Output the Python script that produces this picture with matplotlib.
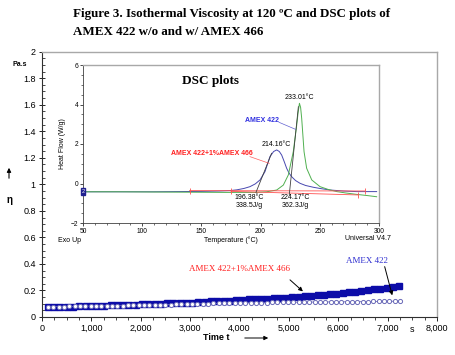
import numpy as np
import matplotlib.pyplot as plt
from matplotlib.ticker import MultipleLocator

# isothermal viscosity at 120 C (Pa.s) vs time (s)
t_blend = np.arange(120, 7240, 127)
eta_blend = [0.075, 0.076, 0.077, 0.078, 0.079, 0.080, 0.082, 0.083, 0.084, 0.085,
             0.087, 0.088, 0.090, 0.092, 0.094, 0.096, 0.097, 0.099, 0.100, 0.102,
             0.104, 0.105, 0.107, 0.109, 0.112, 0.114, 0.117, 0.119, 0.122, 0.124,
             0.127, 0.129, 0.132, 0.134, 0.137, 0.139, 0.142, 0.144, 0.147, 0.150,
             0.154, 0.158, 0.161, 0.164, 0.168, 0.172, 0.177, 0.181, 0.186, 0.191,
             0.196, 0.202, 0.208, 0.214, 0.221, 0.228, 0.235]
t_neat = np.arange(120, 7250, 108)
eta_neat = [0.078, 0.078, 0.079, 0.079, 0.080, 0.080, 0.081, 0.082, 0.082, 0.083,
            0.084, 0.084, 0.085, 0.086, 0.086, 0.087, 0.088, 0.089, 0.089, 0.090,
            0.091, 0.092, 0.093, 0.094, 0.095, 0.096, 0.097, 0.098, 0.099, 0.100,
            0.101, 0.102, 0.103, 0.104, 0.105, 0.106, 0.107, 0.107, 0.108, 0.108,
            0.109, 0.109, 0.110, 0.110, 0.111, 0.111, 0.111, 0.112, 0.112, 0.112,
            0.113, 0.113, 0.113, 0.114, 0.114, 0.114, 0.115, 0.115, 0.115, 0.116,
            0.116, 0.117, 0.117, 0.118, 0.118, 0.119, 0.120]
x_ticks = [0, 1000, 2000, 3000, 4000, 5000, 6000, 7000, 8000]
x_labels = ["0", "1,000", "2,000", "3,000", "4,000", "5,000", "6,000", "7,000", "8,000"]
y_ticks = [0, 0.2, 0.4, 0.6, 0.8, 1.0, 1.2, 1.4, 1.6, 1.8, 2.0]
y_labels = ["0", "0.2", "0.4", "0.6", "0.8", "1", "1.2", "1.4", "1.6", "1.8", "2"]

# DSC heat flow (W/g) vs temperature (C)
neat_T = [50, 80, 110, 140, 170, 195, 205, 213.6, 219.2, 223.4, 227.6, 230.5, 231.7,
          232.8, 233.8, 234.7, 236.7, 238.9, 243.2, 250.2, 257, 264.3, 272, 281, 290, 298]
neat_HF = [-0.42, -0.42, -0.43, -0.44, -0.45, -0.45, -0.42, -0.33, -0.08, 0.43, 1.61,
           2.96, 3.6, 4.06, 3.85, 3.3, 1.61, 0.77, 0.18, -0.16, -0.30, -0.41, -0.48,
           -0.55, -0.61, -0.67]
blend_T = [50, 80, 110, 130, 150, 165, 174, 180, 186, 191, 195.5, 199.5, 203.7, 207.9,
           211, 213.6, 215.8, 217.8, 220, 222, 224, 226.3, 229.5, 233.3, 238, 244.5,
           251, 258.6, 270, 281, 298]
blend_HF = [-0.42, -0.42, -0.42, -0.41, -0.40, -0.38, -0.36, -0.32, -0.25, -0.16, -0.02,
            0.18, 0.60, 1.36, 1.62, 1.70, 1.62, 1.44, 1.10, 0.77, 0.53, 0.34, 0.15, 0.01,
            -0.10, -0.19, -0.26, -0.33, -0.38, -0.41, -0.41]
onset_blend_T, onset_blend_HF = [196.1, 209.3], [-0.45, 1.53]
onset_neat_T, onset_neat_HF = [224.2, 231.9], [-0.58, 3.89]
base_blend_T, base_blend_HF = [140, 288], [-0.36, -0.38]
base_neat_T, base_neat_HF = [175, 282.5], [-0.40, -0.58]

serif = "Liberation Serif"
sans = "Liberation Sans"
plt.rcParams["font.family"] = sans

fig = plt.figure(figsize=(4.55, 3.55), dpi=100)
ax = fig.add_axes([42 / 455, 38 / 355, 395 / 455, 265.3 / 355])

ax.plot(t_blend, eta_blend, ls="none", marker="s", ms=4.5, color="#0c0ca8", mec="#0c0ca8")
ax.plot(t_neat, eta_neat, ls="-", lw=0.6, marker="o", ms=3, color="#6a6ab8",
        mfc="white", mec="#6a6ab8", mew=0.7)

ax.set_xlim(0, 8000)
ax.set_ylim(0, 2)
ax.set_xticks(x_ticks, x_labels)
ax.set_yticks(y_ticks, y_labels)
ax.xaxis.set_minor_locator(MultipleLocator(250))
ax.yaxis.set_minor_locator(MultipleLocator(0.05))
ax.tick_params(which="major", labelsize=6.5, width=0.6, length=3, pad=2)
ax.tick_params(axis="y", which="major", direction="inout", length=5)
ax.tick_params(which="minor", width=0.5, length=2)
ax.tick_params(axis="y", which="minor", direction="in")
for side in ["left", "bottom"]:
    ax.spines[side].set_color("#303030")
    ax.spines[side].set_linewidth(0.8)
for side in ["top", "right"]:
    ax.spines[side].set_color("#a8a8a8")
    ax.spines[side].set_linewidth(1.0)

ax.text(3990, 0.362, "AMEX 422+1%AMEX 466", family=serif, fontsize=6.5, color="#ff2020",
        ha="center", va="center")
ax.annotate("", xy=(5326, 0.179), xytext=(4981, 0.294),
            arrowprops=dict(arrowstyle="-|>", color="black", lw=0.7, mutation_scale=6))
ax.text(6581, 0.422, "AMEX 422", family=serif, fontsize=6.5, color="#3030d0",
        ha="center", va="center")
ax.annotate("", xy=(7108, 0.143), xytext=(6926, 0.40),
            arrowprops=dict(arrowstyle="-|>", color="black", lw=0.7, mutation_scale=6))

# axis labels drawn as loose text like the original
fig.text(412 / 455, 1 - 329 / 355, "s", fontsize=6.5, ha="center", va="center")
fig.text(216 / 455, 1 - 338 / 355, "Time t", fontsize=6.5, weight="bold", ha="center", va="center")
ax.annotate("", xy=(271 / 455, 1 - 338 / 355), xytext=(242 / 455, 1 - 338 / 355),
            xycoords="figure fraction", textcoords="figure fraction",
            arrowprops=dict(arrowstyle="-|>", color="black", lw=0.7, mutation_scale=6))
fig.text(20 / 455, 1 - 64 / 355, "Pa.s", fontsize=5, weight="bold", ha="center", va="center")
fig.text(10 / 455, 1 - 200 / 355, "\u03b7", fontsize=7, weight="bold", ha="center", va="center")
ax.annotate("", xy=(9 / 455, 1 - 165 / 355), xytext=(9 / 455, 1 - 181 / 355),
            xycoords="figure fraction", textcoords="figure fraction",
            arrowprops=dict(arrowstyle="-|>", color="black", lw=0.8, mutation_scale=6))

fig.text(73 / 455, 1 - 14 / 355,
         "Figure 3. Isothermal Viscosity at 120 \u00baC and DSC plots of",
         family=serif, fontsize=9.4, weight="bold", ha="left", va="center")
fig.text(73 / 455, 1 - 32 / 355, "AMEX 422 w/o and w/ AMEX 466",
         family=serif, fontsize=9.4, weight="bold", ha="left", va="center")

# DSC inset
ins = fig.add_axes([83 / 455, 132 / 355, 296 / 455, 158 / 355])
ins.plot(blend_T, blend_HF, color="#4848b0", lw=0.7)
ins.plot(neat_T, neat_HF, color="#50b050", lw=0.7)
ins.plot(base_blend_T, base_blend_HF, color="#ff5050", lw=0.6, marker="|", ms=4, mew=0.6)
ins.plot(base_neat_T, base_neat_HF, color="#ff5050", lw=0.6, marker="|", ms=4, mew=0.6)
ins.plot(onset_blend_T, onset_blend_HF, color="#404040", lw=0.6)
ins.plot(onset_neat_T, onset_neat_HF, color="#404040", lw=0.6)

ins.set_xlim(50, 300)
ins.set_ylim(-2, 6)
ins.set_xticks([50, 100, 150, 200, 250, 300])
ins.set_yticks([-2, 0, 2, 4, 6])
ins.xaxis.set_minor_locator(MultipleLocator(10))
ins.yaxis.set_minor_locator(MultipleLocator(0.5))
ins.tick_params(which="major", labelsize=4.8, length=2.5, width=0.5, pad=1)
ins.tick_params(which="minor", length=1.3, width=0.4)
for side in ["left", "bottom"]:
    ins.spines[side].set_color("#404040")
    ins.spines[side].set_linewidth(0.6)
for side in ["top", "right"]:
    ins.spines[side].set_color("#a8a8a8")
    ins.spines[side].set_linewidth(1.0)
ins.set_ylabel("Heat Flow (W/g)", fontsize=5, labelpad=3)
ins.set_xlabel("Temperature (\u00b0C)", fontsize=5, labelpad=1)

ins.text(0.43, 0.9, "DSC plots", transform=ins.transAxes, family=serif, fontsize=9.5,
         weight="bold", ha="center", va="center")
ins.text(232.8, 4.35, "233.01\u00b0C", fontsize=5, ha="center", va="center")
ins.text(213.6, 1.95, "214.16\u00b0C", fontsize=5, ha="center", va="center")
ins.text(190, -0.9, "196.38\u00b0C\n338.5J/g", fontsize=5, ha="center", va="center",
         linespacing=1.1)
ins.text(229, -0.9, "224.17\u00b0C\n362.3J/g", fontsize=5, ha="center", va="center",
         linespacing=1.1)
ins.text(201, 3.18, "AMEX 422", fontsize=5, weight="bold", color="#3030e0",
         ha="center", va="center")
ins.plot([215.5, 229.6], [3.1, 2.74], color="#6060d0", lw=0.5)
ins.text(159, 1.54, "AMEX 422+1%AMEX 466", fontsize=5, weight="bold", color="#ff2020",
         ha="center", va="center")
ins.plot([191, 207.3], [1.36, 1.02], color="#ff6060", lw=0.5)
ins.text(50, -0.4, "2", fontsize=4, color="white", ha="center", va="center",
         bbox=dict(boxstyle="square,pad=0.15", fc="#202090", ec="#202090"), clip_on=False)
fig.text(70 / 455, 1 - 240 / 355, "Exo Up", fontsize=5, ha="center", va="center")
fig.text(368 / 455, 1 - 238 / 355, "Universal V4.7", fontsize=5, ha="center", va="center")

fig.savefig("out.png", dpi=100)
